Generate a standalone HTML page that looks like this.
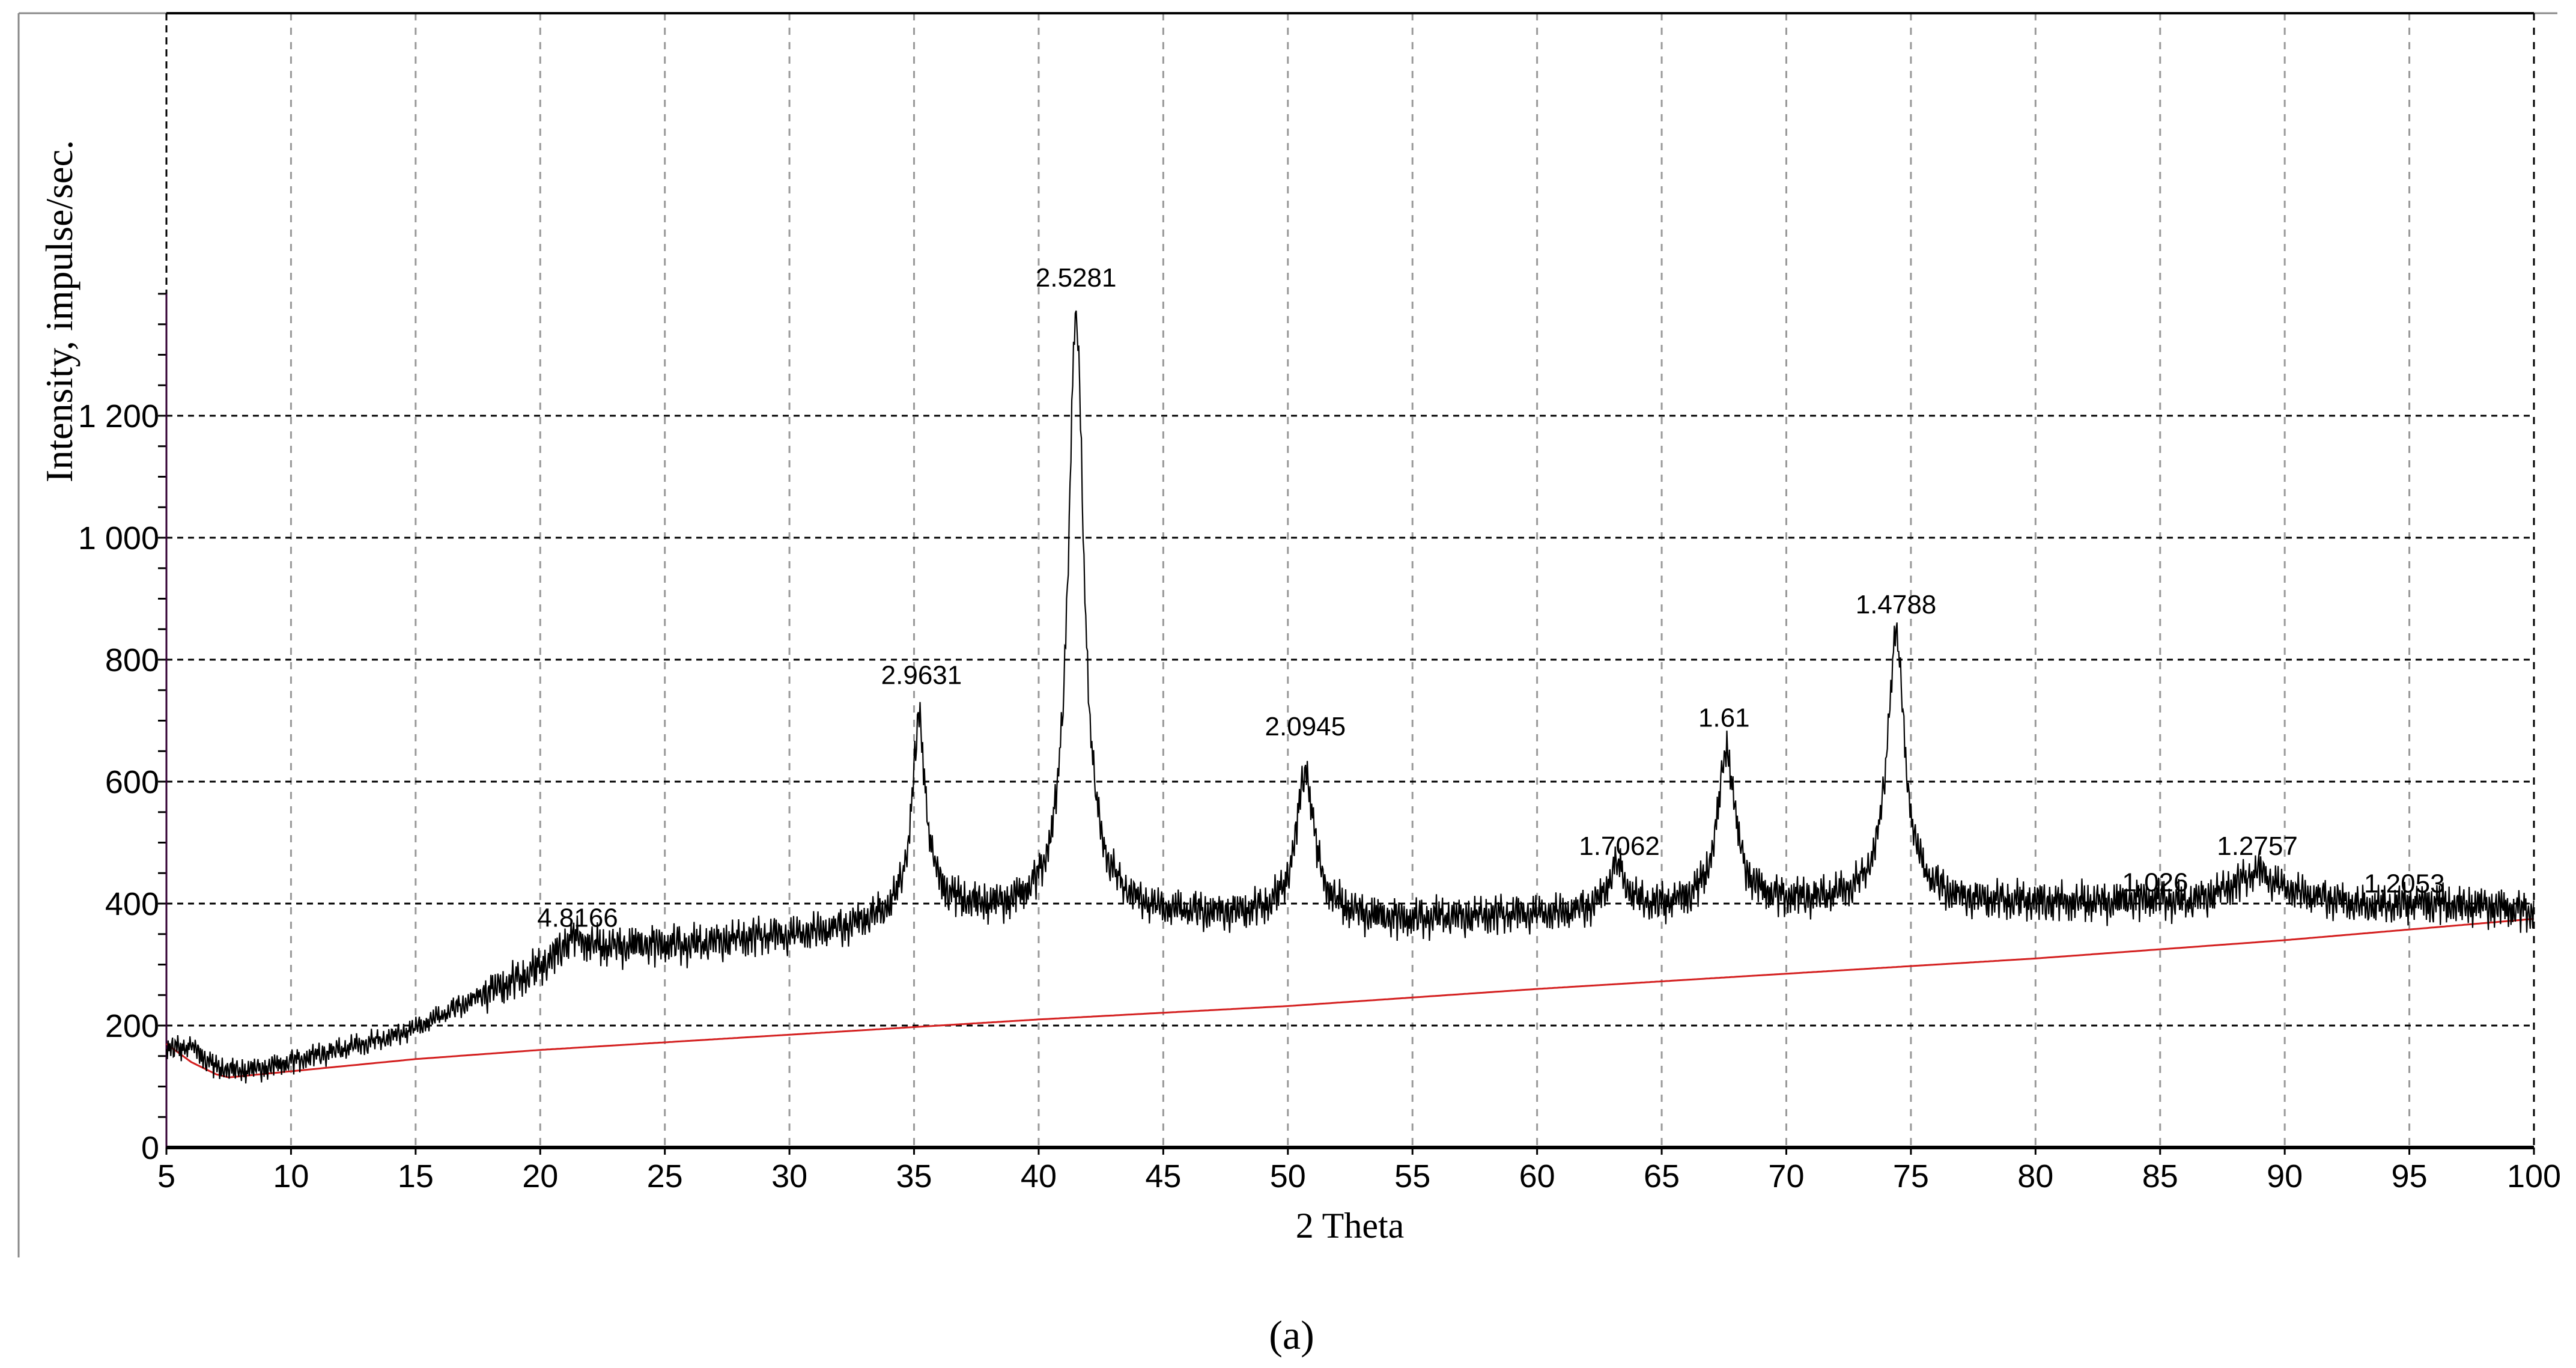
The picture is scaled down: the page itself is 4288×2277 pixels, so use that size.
<!DOCTYPE html>
<html><head><meta charset="utf-8"><style>
html,body{margin:0;padding:0;background:#fff;width:4288px;height:2277px;overflow:hidden}
svg text{font-family:"Liberation Sans",sans-serif}
</style></head><body>
<svg id="chart" width="4288" height="2277" viewBox="0 0 4288 2277" xmlns="http://www.w3.org/2000/svg">
<rect width="4288" height="2277" fill="#fff"/>
<line x1="31" y1="22" x2="31" y2="2093" stroke="#888" stroke-width="3"/>
<line x1="31" y1="22" x2="4257" y2="22" stroke="#888" stroke-width="3"/>
<g id="grid"></g>
<g id="axes"></g>
<g id="series"></g>
<g id="labels"></g>
<text transform="translate(120,518) rotate(-90)" text-anchor="middle" font-size="64" style="font-family:'Liberation Serif',serif">Intensity, impulse/sec.</text>
<text x="2247" y="2060" text-anchor="middle" font-size="60" style="font-family:'Liberation Serif',serif">2 Theta</text>
<text x="2150" y="2245" text-anchor="middle" font-size="68" style="font-family:'Liberation Serif',serif">(a)</text>
</svg>
<script>
const xTicks=[5,10,15,20,25,30,35,40,45,50,55,60,65,70,75,80,85,90,95,100];
const yTicks=[0,200,400,600,800,1000,1200];
const yTickLabels=["0","200","400","600","800","1 000","1 200"];
const bgAngles=[5,6,7,8,9,10,11,12,13,14,15,16,17,18,19,20,21,22,23,24,25,26,27,28,29,30,31,32,33,34,35,36,37,38,39,40,41,42,43,44,45,46,47,48,49,50,51,52,53,54,55,56,57,58,59,60,61,62,63,64,65,66,67,68,69,70,71,72,73,74,75,76,77,78,79,80,81,82,83,84,85,86,87,88,89,90,91,92,93,94,95,96,97,98,99,100];
const bgValues=[160,165,130,125,130,140,150,160,170,180,195,215,235,255,270,290,310,320,325,330,330,330,335,340,345,345,350,355,365,375,395,395,390,385,385,390,398,400,395,385,380,380,378,378,380,385,385,380,375,372,370,375,375,378,380,380,380,385,390,390,390,395,398,400,400,400,400,402,405,408,408,405,400,400,400,400,400,400,400,405,405,400,410,425,432,420,410,405,395,395,400,400,395,395,390,385];
const peakPos=[21.3,35.2,41.5,50.7,63.2,67.6,74.4,88.9];
const peakHeight=[30,300,960,230,70,250,430,20];
const peakWidth=[0.6,0.33,0.38,0.42,0.4,0.42,0.42,0.6];
const peakLabels=["4.8166","2.9631","2.5281","2.0945","1.7062","1.61","1.4788","1.026","1.2757","1.2053"];
const peakLabelAngle=[21.5,35.3,41.5,50.7,63.3,67.5,74.4,84.8,88.9,94.8];
const peakLabelValue=[362,760,1412,676,480,690,876,420,480,418];
const redAngles=[5,6,7,7.5,10,15,20,30,40,50,60,70,80,90,100];
const redValues=[170,140,120,115,125,145,160,185,210,232,260,285,310,340,375];
const jitterA=[12,-25,30,-8,18,-34,5,27,-15,-29,22,8,-20,35,-3,-18,26,-31,10,-6,31,-22,2,19,-27,14,-12,33,-9,-24,7,24,-17,29,-2,-33,16];
const jitterB=[-10,6,-4,12,-14,3,9,-7,14,-2,-12,5,11,-9,1,8,-13,4,-5,13,-8,2,10];

const X0=277,X1=4218,Y0=1910,PY=1.015,TOP=22;
const sx=v=>X0+(v-5)*(X1-X0)/95;
const sy=v=>Y0-v*PY;
const NS="http://www.w3.org/2000/svg";
function mk(tag,attrs,parent){const e=document.createElementNS(NS,tag);for(const k in attrs)e.setAttribute(k,attrs[k]);parent.appendChild(e);return e;}
function interp(xs,ys,x){if(x<=xs[0])return ys[0];for(let i=1;i<xs.length;i++){if(x<=xs[i]){const t=(x-xs[i-1])/(xs[i]-xs[i-1]);return ys[i-1]+t*(ys[i]-ys[i-1]);}}return ys[ys.length-1];}
const grid=document.getElementById('grid'),axes=document.getElementById('axes'),series=document.getElementById('series'),labels=document.getElementById('labels');

xTicks.forEach(t=>{
  if(t>5){const l=mk('line',{x1:sx(t),y1:TOP,x2:sx(t),y2:Y0,stroke:t===100?'#000':'#999','stroke-width':3,'stroke-dasharray':'12,12'},grid);
  
  }
  const tk=mk('line',{x1:sx(t),y1:Y0,x2:sx(t),y2:Y0+12,stroke:'#000','stroke-width':3},axes);
  
  
  const tx=mk('text',{x:sx(t),y:Y0+66,'text-anchor':'middle','font-size':54},labels);
  tx.textContent=t;
  
  
});
yTicks.forEach((t,i)=>{
  if(t>0){const l=mk('line',{x1:X0,y1:sy(t),x2:X1,y2:sy(t),stroke:'#000','stroke-width':3,'stroke-dasharray':'10,8'},grid);
  
  }
  const tx=mk('text',{x:X0-12,y:sy(t)+19,'text-anchor':'end','font-size':54},labels);
  tx.textContent=yTickLabels[i];
  
  
});
for(let v=50;v<=1400;v+=50){
  const tk=mk('line',{x1:X0-14,y1:sy(v),x2:X0,y2:sy(v),stroke:'#000','stroke-width':3},axes);
  
  
}
const ya=mk('line',{x1:X0,y1:sy(1400),x2:X0,y2:Y0,stroke:'#303','stroke-width':3},axes);


const yd=mk('line',{x1:X0,y1:TOP,x2:X0,y2:sy(1400),stroke:'#000','stroke-width':3,'stroke-dasharray':'12,8'},axes);


const xa=mk('line',{x1:X0,y1:Y0,x2:X1,y2:Y0,stroke:'#000','stroke-width':6},axes);


const ta=mk('line',{x1:X0,y1:TOP,x2:X1,y2:TOP,stroke:'#000','stroke-width':4},axes);



let rd='';
for(let a=5;a<=100.001;a+=0.1){rd+=(rd?'L':'M')+sx(a).toFixed(1)+','+sy(interp(redAngles,redValues,a)).toFixed(1);}
const red=mk('path',{d:rd,fill:'none',stroke:'#d42020','stroke-width':3},series);



let d='';let i=0;
for(let a=5;a<=100.001;a+=0.035,i++){
  let v=interp(bgAngles,bgValues,a);
  for(let k=0;k<peakPos.length;k++){const z=(a-peakPos[k])/peakWidth[k];v+=peakHeight[k]/(1+z*z);}
  const amp=v<250?0.6:1;
  v+=amp*(jitterA[i%jitterA.length]+jitterB[(i*7)%jitterB.length])*0.8;
  d+=(d?'L':'M')+sx(a).toFixed(1)+','+sy(v).toFixed(1);
}
const tr=mk('path',{d:d,fill:'none',stroke:'#000','stroke-width':2.2,'stroke-linejoin':'miter'},series);



peakLabels.forEach((s,k)=>{
  const tx=mk('text',{x:sx(peakLabelAngle[k]),y:sy(peakLabelValue[k]),'text-anchor':'middle','font-size':44},labels);
  tx.textContent=s;
  
  
});
</script>
</body></html>
